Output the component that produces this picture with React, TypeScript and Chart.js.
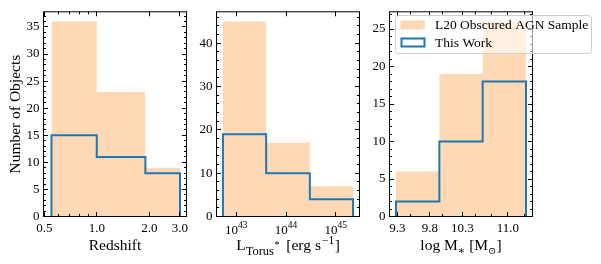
import { useEffect, useRef } from "react";
import { Chart, registerables } from "chart.js";
Chart.register(...registerables);

// ---------------- data ----------------
// Panel 1: redshift
const zEdges = [0.55, 1.0, 1.9, 3.0];
const zL20 = [36, 23, 9];
const zThisWork = [15, 11, 8];
const zTickValues = [0.5, 1.0, 2.0, 3.0];
const zMinorTicks = [0.6, 0.7, 0.8, 0.9];
const zYTicks = [0, 5, 10, 15, 20, 25, 30, 35];

// Panel 2: torus luminosity (bin edges as log10 exponents)
const lEdgeExps = [42.73, 43.6, 44.48, 45.35];
const lL20 = [45, 17, 7];
const lThisWork = [19, 10, 4];
const lTickExps = [43, 44, 45];
const lYTicks = [0, 10, 20, 30, 40];

// Panel 3: stellar mass
const mEdges = [9.28, 9.947, 10.613, 11.28];
const mL20 = [6, 19, 26];
const mThisWork = [2, 10, 18];
const mTickValues = [9.3, 9.8, 10.3, 11.0];
const mTickLabels = ["9.3", "9.8", "10.3", "11.0"];
const mMinorTicks = [9.5, 10.0, 10.5, 10.75, 11.25];
const mYTicks = [0, 5, 10, 15, 20, 25];

const legendLabels = ["L20 Obscured AGN Sample", "This Work"];

// ---------------- style ----------------
const W = 601;
const H = 264;
const PLOT_TOP = 9.5;
const PLOT_BOTTOM = 216.5;
const FONT = '"Liberation Serif", "DejaVu Serif", serif';
const ORANGE_FILL = "rgba(255,127,14,0.3)";
const BLUE = "#1f77b4";
const MAJ = 4.5;
const MIN = 2.5;

type Seg = { t: string; size?: number; dy?: number; gap?: number };

interface PanelDef {
  key: string;
  left: number;
  right: number;
  xType: "linear" | "logarithmic";
  xMin: number;
  xMax: number;
  edges: number[];
  l20: number[];
  mine: number[];
  xMajor: number[];
  xMinor: number[];
  xLabel: ((v: number) => string) | null;
  yTicks: number[];
  yMinorStep: number;
  title: Seg[];
  legend?: boolean;
  yTitle?: string;
}

function stepPoints(edges: number[], counts: number[]) {
  const pts = [{ x: edges[0], y: 0 }];
  counts.forEach((c, i) => {
    pts.push({ x: edges[i], y: c });
    pts.push({ x: edges[i + 1], y: c });
  });
  pts.push({ x: edges[edges.length - 1], y: 0 });
  return pts;
}

const PANELS: PanelDef[] = [
  {
    key: "z",
    left: 43.5,
    right: 186.5,
    xType: "logarithmic",
    xMin: 0.495,
    xMax: 3.27,
    edges: zEdges,
    l20: zL20,
    mine: zThisWork,
    xMajor: zTickValues,
    xMinor: zMinorTicks,
    xLabel: (v) => v.toFixed(1),
    yTicks: zYTicks,
    yMinorStep: 1,
    title: [{ t: "Redshift" }],
    yTitle: "Number of Objects",
  },
  {
    key: "L",
    left: 216.5,
    right: 359.5,
    xType: "logarithmic",
    xMin: Math.pow(10, 42.6),
    xMax: Math.pow(10, 45.48),
    edges: lEdgeExps.map((e) => Math.pow(10, e)),
    l20: lL20,
    mine: lThisWork,
    xMajor: lTickExps.map((e) => Math.pow(10, e)),
    xMinor: [],
    xLabel: null,
    yTicks: lYTicks,
    yMinorStep: 2,
    title: [
      { t: "L" },
      { t: "Torus", size: 12.5, dy: 4.5 },
      { t: "*", size: 10, dy: -2, gap: 0.5 },
      { t: " [erg s", gap: 3 },
      { t: "\u22121", size: 11.5, dy: -6, gap: 1 },
      { t: "]", gap: 0.5 },
    ],
  },
  {
    key: "M",
    left: 389.5,
    right: 532.5,
    xType: "linear",
    xMin: 9.18,
    xMax: 11.38,
    edges: mEdges,
    l20: mL20,
    mine: mThisWork,
    xMajor: mTickValues,
    xMinor: mMinorTicks,
    xLabel: (v) => mTickLabels[mTickValues.indexOf(v)] ?? String(v),
    yTicks: mYTicks,
    yMinorStep: 1,
    title: [
      { t: "log M" },
      { t: "\u2217", size: 11, dy: 3.5 },
      { t: " [M" },
      { t: "\u2299", size: 10, dy: 3.5 },
      { t: "]" },
    ],
    legend: true,
  },
];

const TITLE_SIZE = 15.5;

function drawRich(ctx: CanvasRenderingContext2D, segs: Seg[], cx: number, baseY: number) {
  let total = 0;
  const widths = segs.map((s) => {
    ctx.font = `${s.size ?? TITLE_SIZE}px ${FONT}`;
    const w = ctx.measureText(s.t).width + (s.gap ?? 0);
    total += w;
    return w;
  });
  let x = cx - total / 2;
  ctx.textAlign = "left";
  ctx.textBaseline = "alphabetic";
  segs.forEach((s, i) => {
    ctx.font = `${s.size ?? TITLE_SIZE}px ${FONT}`;
    ctx.fillText(s.t, x + (s.gap ?? 0), baseY + (s.dy ?? 0));
    x += widths[i];
  });
}

function decorPlugin(def: PanelDef) {
  return {
    id: "decor_" + def.key,
    afterDraw(chart: any) {
      const ctx: CanvasRenderingContext2D = chart.ctx;
      const { left, right, top, bottom } = chart.chartArea;
      const xs = chart.scales.x;
      const ys = chart.scales.y;
      const snap = (v: number) => Math.round(v - 0.5) + 0.5;
      ctx.save();
      ctx.strokeStyle = "#000";
      ctx.lineWidth = 1;
      ctx.beginPath();
      const xTick = (v: number, len: number) => {
        const px = snap(xs.getPixelForValue(v));
        if (px < left || px > right) return;
        ctx.moveTo(px, bottom);
        ctx.lineTo(px, bottom - len);
        ctx.moveTo(px, top);
        ctx.lineTo(px, top + len);
      };
      const yTick = (v: number, len: number) => {
        const py = snap(ys.getPixelForValue(v));
        ctx.moveTo(left, py);
        ctx.lineTo(left + len, py);
        ctx.moveTo(right, py);
        ctx.lineTo(right - len, py);
      };
      def.xMajor.forEach((v) => xTick(v, MAJ));
      def.xMinor.forEach((v) => xTick(v, MIN));
      def.yTicks.forEach((v) => yTick(v, MAJ));
      const yMax = ys.max;
      for (let i = 0; i * def.yMinorStep <= yMax; i++) {
        const v = i * def.yMinorStep;
        if (!def.yTicks.includes(v)) yTick(v, MIN);
      }
      ctx.stroke();
      ctx.strokeRect(left, top, right - left, bottom - top);

      ctx.fillStyle = "#000";
      // custom tick labels with superscripts (panel 2)
      if (def.xLabel === null) {
        lTickExps.forEach((e) => {
          const px = xs.getPixelForValue(Math.pow(10, e));
          ctx.font = `13px ${FONT}`;
          const w1 = ctx.measureText("10").width;
          ctx.font = `9.5px ${FONT}`;
          const w2 = ctx.measureText(String(e)).width;
          const x0 = px - (w1 + w2) / 2;
          ctx.textAlign = "left";
          ctx.textBaseline = "alphabetic";
          ctx.font = `13px ${FONT}`;
          ctx.fillText("10", x0, 234);
          ctx.font = `9.5px ${FONT}`;
          ctx.fillText(String(e), x0 + w1, 227.5);
        });
      }

      // axis titles
      const cx = (left + right) / 2;
      drawRich(ctx, def.title, cx, 250);
      if (def.yTitle) {
        ctx.save();
        ctx.translate(19.5, (top + bottom) / 2);
        ctx.rotate(-Math.PI / 2);
        ctx.font = `${TITLE_SIZE}px ${FONT}`;
        ctx.textAlign = "center";
        ctx.textBaseline = "alphabetic";
        ctx.fillText(def.yTitle, 0, 0);
        ctx.restore();
      }

      // legend
      if (def.legend) {
        const lx = 395.5, ly = 15.5, lw = 196, lh = 38;
        ctx.beginPath();
        (ctx as any).roundRect(lx, ly, lw, lh, 3);
        ctx.fillStyle = "rgba(255,255,255,0.6)";
        ctx.fill();
        ctx.strokeStyle = "#cccccc";
        ctx.lineWidth = 1;
        ctx.stroke();
        // patch 1
        ctx.fillStyle = ORANGE_FILL;
        ctx.fillRect(400.5, 20.5, 24.5, 9);
        // patch 2
        ctx.strokeStyle = BLUE;
        ctx.lineWidth = 2;
        ctx.strokeRect(401.5, 38.5, 23, 8);
        ctx.fillStyle = "#000";
        ctx.font = `13.5px ${FONT}`;
        ctx.textAlign = "left";
        ctx.textBaseline = "middle";
        ctx.fillText(legendLabels[0], 435, 25.5);
        ctx.fillText(legendLabels[1], 435, 43);
      }
      ctx.restore();
    },
  };
}

function PanelChart({ def }: { def: PanelDef }) {
  const ref = useRef<HTMLCanvasElement>(null);
  useEffect(() => {
    const yMax = Math.max(...def.l20, ...def.mine) * 1.05;
    const chart = new Chart(ref.current as HTMLCanvasElement, {
      type: "line",
      data: {
        datasets: [
          {
            label: legendLabels[1],
            data: stepPoints(def.edges, def.mine),
            borderColor: BLUE,
            borderWidth: 2,
            borderJoinStyle: "miter",
            fill: false,
            pointRadius: 0,
            tension: 0,
          },
          {
            label: legendLabels[0],
            data: stepPoints(def.edges, def.l20),
            borderColor: "rgba(0,0,0,0)",
            borderWidth: 0,
            backgroundColor: ORANGE_FILL,
            fill: "origin",
            pointRadius: 0,
            tension: 0,
          },
        ],
      } as any,
      options: {
        responsive: false,
        animation: false,
        events: [],
        layout: { padding: { left: 0, top: PLOT_TOP, right: W - def.right, bottom: 0 } },
        plugins: { legend: { display: false }, tooltip: { enabled: false } },
        scales: {
          x: {
            type: def.xType,
            min: def.xMin,
            max: def.xMax,
            grid: { display: false, drawTicks: false, tickLength: 0 },
            border: { display: false },
            afterBuildTicks: (s: any) => {
              s.ticks = def.xMajor.map((v) => ({ value: v }));
            },
            afterFit: (s: any) => {
              s.height = H - PLOT_BOTTOM;
              s.paddingLeft = 0;
              s.paddingRight = 0;
            },
            ticks: {
              display: def.xLabel !== null,
              autoSkip: false,
              maxRotation: 0,
              minRotation: 0,
              padding: 4,
              color: "#000",
              font: { family: FONT, size: 13 },
              callback: (v: any) => (def.xLabel ? def.xLabel(Number(v)) : ""),
            },
          },
          y: {
            type: "linear",
            min: 0,
            max: yMax,
            grid: { display: false, drawTicks: false, tickLength: 0 },
            border: { display: false },
            afterBuildTicks: (s: any) => {
              s.ticks = def.yTicks.map((v) => ({ value: v }));
            },
            afterFit: (s: any) => {
              s.width = def.left;
            },
            ticks: {
              padding: 4,
              color: "#000",
              font: { family: FONT, size: 13 },
              callback: (v: any) => String(v),
            },
          },
        },
      } as any,
      plugins: [decorPlugin(def)],
    });
    return () => chart.destroy();
  }, []);
  return (
    <canvas
      ref={ref}
      width={W}
      height={H}
      style={{ position: "absolute", left: 0, top: 0, width: W, height: H }}
    />
  );
}

export default function App() {
  return (
    <div style={{ position: "fixed", left: 0, top: 0, width: W, height: H, background: "#fff" }}>
      {PANELS.map((p) => (
        <PanelChart key={p.key} def={p} />
      ))}
    </div>
  );
}
